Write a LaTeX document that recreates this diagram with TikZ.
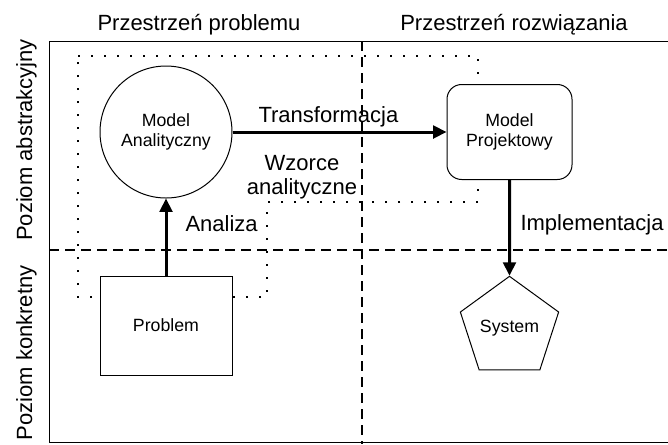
\documentclass[tikz,border=0pt]{standalone}
\usepackage{fontspec}
\setmainfont{Liberation Sans}
\usetikzlibrary{arrows.meta,shapes.geometric}

\tikzset{every picture/.style={line width=0.75pt}}
\tikzset{
  box/.style={draw,fill=white,align=center,font=\fontsize{13.3}{15}\selectfont},
  flow/.style={line width=2.25pt,-{Triangle[length=10pt,width=9.5pt]}},
  lbl/.style={inner sep=0pt,font=\fontsize{16.5}{18}\selectfont},
  border/.style={dash pattern=on 7.5pt off 4.5pt,line width=1.5pt},
  zone/.style={dash pattern=on 1.5pt off 8.25pt,line width=1.5pt}
}

\begin{document}
\begin{tikzpicture}[x=0.75pt,y=0.75pt,yscale=-1,xscale=1]
\useasboundingbox (0,0) rectangle (668,444);

%Straight Lines [frame]
\draw (668,41) -- (49,41) -- (49,442) -- (668,442);
%Straight Lines [dashed split]
\draw [border] (49,250) -- (668,250);
\draw [border] (362,41) -- (362,444);
%Dotted outline
\draw [zone] (78,56) -- (478,56) -- (478,202) -- (267,202) -- (267,297) -- (78,297) -- cycle;

%Shape: Circle
\node [box,circle,minimum size=99pt,inner sep=0pt] (anal) at (166,132) {Model\\Analityczny};
%Shape: Rounded Rectangle
\node [box,rounded corners=11pt,minimum width=93.75pt,minimum height=71.25pt] (proj) at (509.5,132) {Model\\Projektowy};
%Shape: Rectangle
\node [box,minimum width=99pt,minimum height=74.25pt] (prob) at (166,325.5) {Problem};
%Shape: Pentagon
\node [box,regular polygon,regular polygon sides=5,minimum size=67.5pt,inner sep=0pt] (sys) at (509.5,328) {System};

%Straight Lines [arrows]
\draw [flow] (prob) -- (anal);
\draw [flow] (anal) -- (proj);
\draw [flow] (proj) -- (sys);

% Text Node
\node [lbl,anchor=base] (spacea) at (199,30) {Przestrzeń problemu};
% Text Node
\node [lbl,anchor=base] (spaceb) at (514,30) {Przestrzeń rozwiązania};
% Text Node
\node [lbl,anchor=base,rotate=90] (levela) at (32,140) {Poziom abstrakcyjny};
% Text Node
\node [lbl,anchor=base east,rotate=90] (levelb) at (32,265) {Poziom konkretny};
% Text Node
\node [lbl,anchor=base west] (trans) at (258,122) {Transformacja};
% Text Node
\node [lbl,align=center] (patt) at (302,177) {Wzorce\\analityczne};
% Text Node
\node [lbl,anchor=base west] (analiza) at (185,231) {Analiza};
% Text Node
\node [lbl,anchor=base west] (impl) at (520,230) {Implementacja};

\end{tikzpicture}
\end{document}
